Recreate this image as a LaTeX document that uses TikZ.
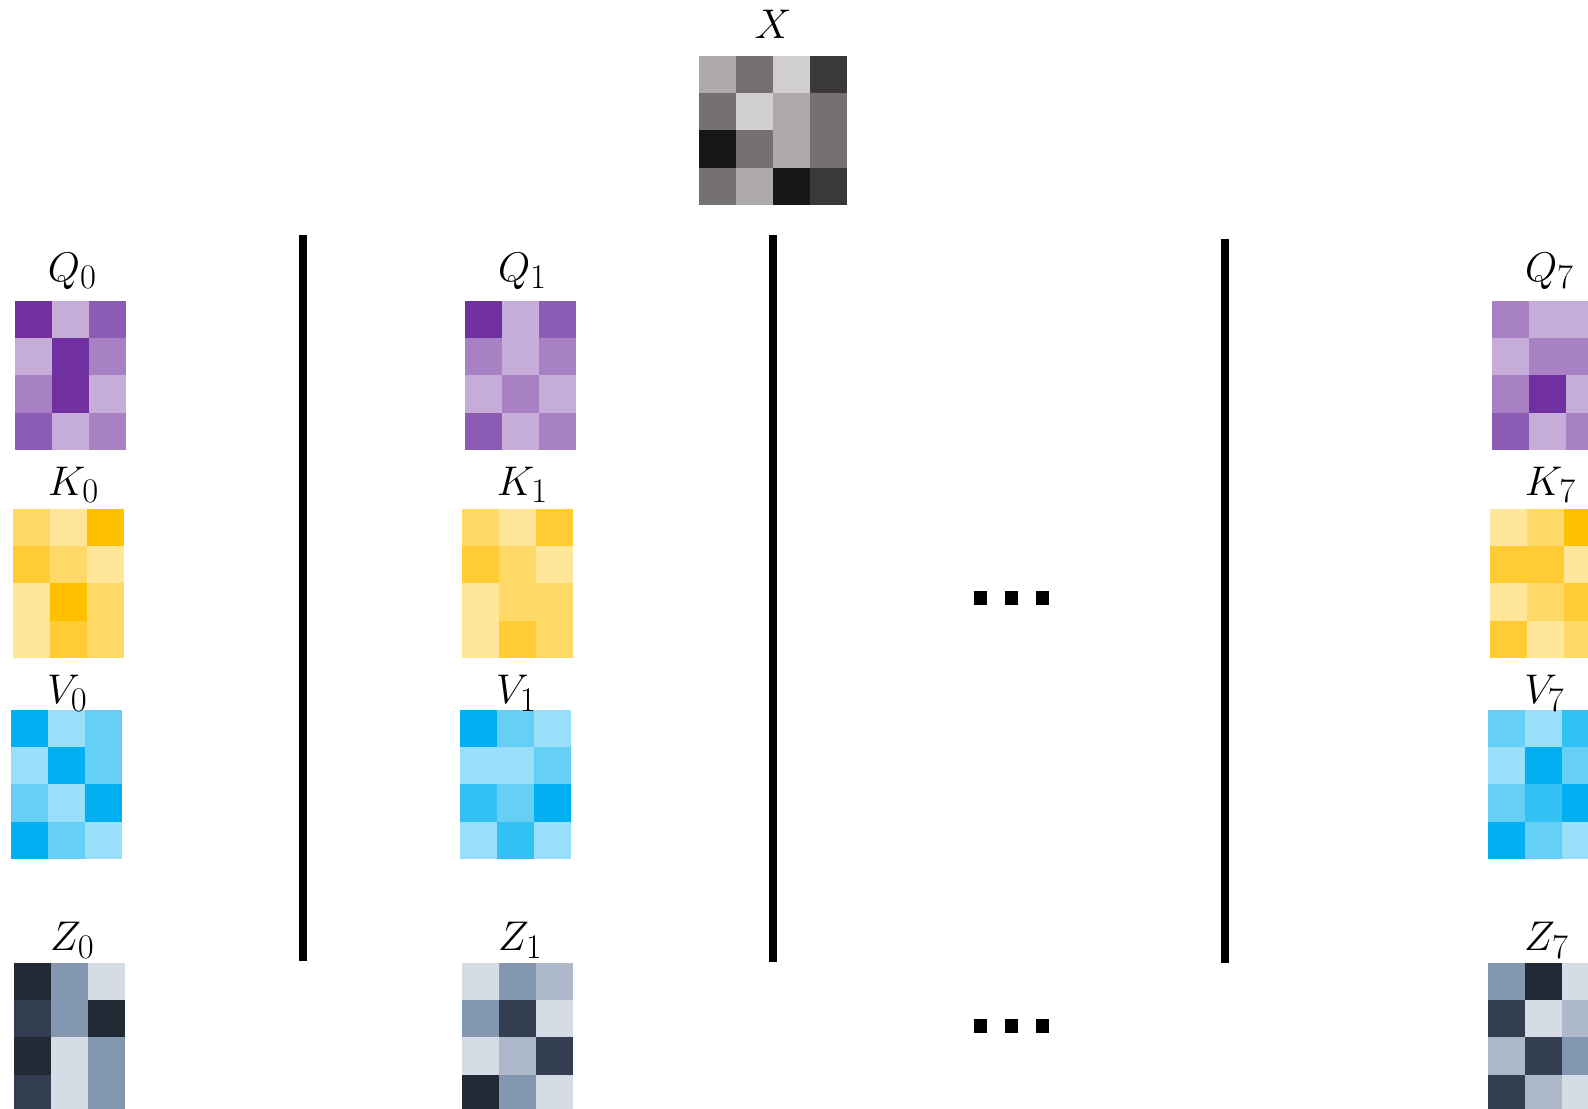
\documentclass[tikz,border=0pt]{standalone}
\usetikzlibrary{calc}
\DeclareMathSizes{21}{21}{16}{12}

\definecolor{xg1}{HTML}{171717}
\definecolor{xg2}{HTML}{3B3838}
\definecolor{xg3}{HTML}{767171}
\definecolor{xg4}{HTML}{AEAAAA}
\definecolor{xg5}{HTML}{D0CECE}
\definecolor{pu1}{HTML}{7030A0}
\definecolor{pu2}{HTML}{8C5BB3}
\definecolor{pu3}{HTML}{A880C4}
\definecolor{pu4}{HTML}{C6ADD9}
\definecolor{ye1}{HTML}{FFC000}
\definecolor{ye2}{HTML}{FFCC33}
\definecolor{ye3}{HTML}{FFD966}
\definecolor{ye4}{HTML}{FFE699}
\definecolor{bl1}{HTML}{00B0F0}
\definecolor{bl2}{HTML}{33C0F3}
\definecolor{bl3}{HTML}{66CFF5}
\definecolor{bl4}{HTML}{99DFF9}
\definecolor{sl1}{HTML}{222A35}
\definecolor{sl2}{HTML}{333F50}
\definecolor{sl3}{HTML}{8497B0}
\definecolor{sl4}{HTML}{ADB9CA}
\definecolor{sl5}{HTML}{D6DCE5}

\newcommand{\fillcells}[2]{%
  \foreach \row [count=\ri from 0] in {#2} {
    \foreach \cl [count=\ci from 0] in \row {
      \fill[\cl] ($(#1.north west)+(\ci*37,\ri*37.2)$) rectangle ++(37,37.2);
    }
  }
}

\begin{document}
\begin{tikzpicture}[x=0.5pt, y=-0.5pt,
  block/.style={minimum width=55.5pt, minimum height=74.4pt, inner sep=0pt, outer sep=0pt, anchor=north west},
  lbl/.style={anchor=base, inner sep=0pt, font=\fontsize{21}{25}\selectfont},
  divider/.style={line width=4pt},
  dotsq/.style={fill=black, minimum size=6.75pt, inner sep=0pt}]
  \clip (0,0) rectangle (1588,1108);

  \node[block, minimum width=74pt] (X) at (699,56) {};
  \node[block] (Q0) at (15,301) {};
  \node[block] (K0) at (13,509) {};
  \node[block] (V0) at (11,710) {};
  \node[block] (Z0) at (14,963) {};
  \node[block] (Q1) at (465,301) {};
  \node[block] (K1) at (462,509) {};
  \node[block] (V1) at (460,710) {};
  \node[block] (Z1) at (462,963) {};
  \node[block] (Q7) at (1492,301) {};
  \node[block] (K7) at (1490,509) {};
  \node[block] (V7) at (1488,710) {};
  \node[block] (Z7) at (1488,963) {};

  \fillcells{X}{{xg4,xg3,xg5,xg2},{xg3,xg5,xg4,xg3},{xg1,xg3,xg4,xg3},{xg3,xg4,xg1,xg2}}
  \fillcells{Q0}{{pu1,pu4,pu2},{pu4,pu1,pu3},{pu3,pu1,pu4},{pu2,pu4,pu3}}
  \fillcells{Q1}{{pu1,pu4,pu2},{pu3,pu4,pu3},{pu4,pu3,pu4},{pu2,pu4,pu3}}
  \fillcells{Q7}{{pu3,pu4,pu4},{pu4,pu3,pu3},{pu3,pu1,pu4},{pu2,pu4,pu3}}
  \fillcells{K0}{{ye3,ye4,ye1},{ye2,ye3,ye4},{ye4,ye1,ye3},{ye4,ye2,ye3}}
  \fillcells{K1}{{ye3,ye4,ye2},{ye2,ye3,ye4},{ye4,ye3,ye3},{ye4,ye2,ye3}}
  \fillcells{K7}{{ye4,ye3,ye1},{ye2,ye2,ye4},{ye4,ye3,ye2},{ye2,ye4,ye3}}
  \fillcells{V0}{{bl1,bl4,bl3},{bl4,bl1,bl3},{bl3,bl4,bl1},{bl1,bl3,bl4}}
  \fillcells{V1}{{bl1,bl3,bl4},{bl4,bl4,bl3},{bl2,bl3,bl1},{bl4,bl2,bl4}}
  \fillcells{V7}{{bl3,bl4,bl2},{bl4,bl1,bl3},{bl3,bl2,bl1},{bl1,bl3,bl4}}
  \fillcells{Z0}{{sl1,sl3,sl5},{sl2,sl3,sl1},{sl1,sl5,sl3},{sl2,sl5,sl3}}
  \fillcells{Z1}{{sl5,sl3,sl4},{sl3,sl2,sl5},{sl5,sl4,sl2},{sl1,sl3,sl5}}
  \fillcells{Z7}{{sl3,sl1,sl5},{sl2,sl5,sl4},{sl4,sl2,sl3},{sl2,sl4,sl5}}

  \node[lbl] (lX) at ($(X.north)+(0,-18)$) {$X$};
  \foreach \h in {0,1,7} {
    \node[lbl] (lQ\h) at ($(Q\h.north)+(2,-20)$) {$Q_\h$};
    \node[lbl] (lK\h) at ($(K\h.north)+(5,-14)$) {$K_\h$};
    \node[lbl] (lV\h) at ($(V\h.north)+(1,-7)$) {$V_\h$};
    \node[lbl] (lZ\h) at ($(Z\h.north)+(3,-13)$) {$Z_\h$};
  }

  \coordinate (s1a) at (302.5,235);  \coordinate (s1b) at (302.5,961);
  \coordinate (s2a) at (772.5,235);  \coordinate (s2b) at (772.5,962);
  \coordinate (s3a) at (1225,239);   \coordinate (s3b) at (1225,963);
  \draw[divider] (s1a) -- (s1b);
  \draw[divider] (s2a) -- (s2b);
  \draw[divider] (s3a) -- (s3b);

  \foreach \i in {0,1,2} {
    \node[dotsq] (dU\i) at ({980.5+31*\i},598) {};
    \node[dotsq] (dL\i) at ({980.5+31*\i},1026) {};
  }
\end{tikzpicture}
\end{document}
